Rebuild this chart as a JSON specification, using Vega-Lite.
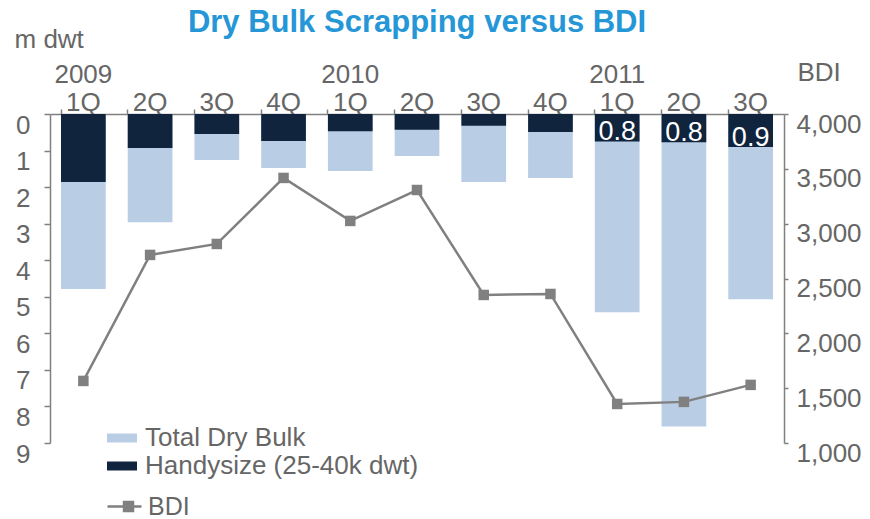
{
  "$schema": "https://vega.github.io/schema/vega-lite/v6.json",
  "width": 734,
  "height": 329,
  "autosize": {"type": "none"},
  "padding": {"left": 50, "top": 114, "right": 86, "bottom": 76},
  "config": {
    "font": "Liberation Sans",
    "view": {"stroke": null},
    "axis": {"grid": false}
  },
  "title": {
    "text": "Dry Bulk Scrapping versus BDI",
    "fontSize": 31,
    "fontWeight": "bold",
    "color": "#2596D6",
    "anchor": "middle",
    "font": "Liberation Sans",
    "offset": -13
  },
  "data": {
    "values": [
      {"q": "2009 1Q", "total": 4.79, "handy": 1.86, "bdi": 1566},
      {"q": "2009 2Q", "total": 2.96, "handy": 0.93, "bdi": 2715},
      {"q": "2009 3Q", "total": 1.26, "handy": 0.55, "bdi": 2815},
      {"q": "2009 4Q", "total": 1.48, "handy": 0.74, "bdi": 3417},
      {"q": "2010 1Q", "total": 1.56, "handy": 0.47, "bdi": 3025},
      {"q": "2010 2Q", "total": 1.15, "handy": 0.43, "bdi": 3307},
      {"q": "2010 3Q", "total": 1.86, "handy": 0.32, "bdi": 2350},
      {"q": "2010 4Q", "total": 1.75, "handy": 0.49, "bdi": 2359},
      {"q": "2011 1Q", "total": 5.42, "handy": 0.75, "bdi": 1356, "label": "0.8"},
      {"q": "2011 2Q", "total": 8.55, "handy": 0.77, "bdi": 1375, "label": "0.8"},
      {"q": "2011 3Q", "total": 5.07, "handy": 0.9, "bdi": 1530, "label": "0.9"}
    ]
  },
  "encoding": {
    "x": {
      "field": "q",
      "type": "nominal",
      "sort": null,
      "scale": {"paddingInner": 0.33, "paddingOuter": 0.165},
      "axis": {
        "orient": "top",
        "title": null,
        "labelAngle": 0,
        "labelFontSize": 26,
        "labelColor": "#666666",
        "labelBaseline": "alphabetic",
        "labelPadding": 27,
        "labelOverlap": false,
        "labelExpr": "indexof(datum.value, '1Q') > 0 ? [(slice(datum.value, 0, 4) == '2010' ? '\u00a0\u00a0\u00a0' : '\u00a0\u00a0') + slice(datum.value, 0, 4), '1Q'] : ['', slice(datum.value, 5)]",
        "bandPosition": 0,
        "tickSize": 5,
        "tickWidth": 1.5,
        "tickColor": "#808080",
        "domainColor": "#808080",
        "domainWidth": 1.5
      }
    }
  },
  "layer": [
    {
      "transform": [{"fold": ["total", "handy"], "as": ["series", "value"]}],
      "encoding": {
        "y": {
          "field": "value",
          "type": "quantitative",
          "stack": null,
          "scale": {"domain": [0, 9], "reverse": true, "nice": false},
          "axis": {
            "orient": "left",
            "values": [0, 1, 2, 3, 4, 5, 6, 7, 8, 9],
            "format": "d",
            "labelFontSize": 26,
            "labelColor": "#666666",
            "labelPadding": 14,
            "labelOffset": 11,
            "tickSize": 6,
            "tickWidth": 1.5,
            "tickColor": "#808080",
            "domainColor": "#808080",
            "domainWidth": 1.5,
            "title": "m dwt",
            "titleAngle": 0,
            "titleAlign": "left",
            "titleBaseline": "alphabetic",
            "titleX": -36,
            "titleY": -67,
            "titleFontSize": 26,
            "titleFontWeight": "normal",
            "titleColor": "#666666"
          }
        }
      },
      "layer": [
        {
          "mark": {"type": "bar"},
          "encoding": {
            "fill": {
              "field": "series",
              "type": "nominal",
              "scale": {
                "domain": ["total", "handy"],
                "range": ["#B9CDE5", "#10243E"]
              },
              "legend": {
                "orient": "none",
                "legendX": 57,
                "legendY": 309,
                "title": null,
                "labelExpr": "datum.label == 'total' ? 'Total Dry Bulk' : 'Handysize (25-40k dwt)'",
                "symbolType": "M-1,-0.3H1V0.3H-1Z",
                "symbolSize": 900,
                "symbolStrokeWidth": 0,
                "labelFontSize": 26,
                "labelColor": "#666666",
                "labelLimit": 500,
                "labelOffset": 8,
                "rowPadding": -2
              }
            }
          }
        },
        {
          "transform": [{"filter": "datum.series == 'handy' && isValid(datum.label)"}],
          "mark": {
            "type": "text",
            "color": "#FFFFFF",
            "fontSize": 27,
            "baseline": "alphabetic",
            "align": "center",
            "dy": -1
          },
          "encoding": {
            "text": {"field": "label", "type": "nominal"}
          }
        }
      ]
    },
    {
      "encoding": {
        "y": {
          "field": "bdi",
          "type": "quantitative",
          "scale": {"domain": [1000, 4000], "nice": false},
          "axis": {
            "orient": "right",
            "values": [1000, 1500, 2000, 2500, 3000, 3500, 4000],
            "labelExpr": "format(datum.value, ',.0f')",
            "labelFontSize": 26,
            "labelColor": "#666666",
            "labelPadding": 8,
            "labelOffset": 10,
            "tickSize": 4,
            "tickWidth": 1.5,
            "tickColor": "#808080",
            "domainColor": "#808080",
            "domainWidth": 1.5,
            "title": "BDI",
            "titleAngle": 0,
            "titleAlign": "left",
            "titleBaseline": "alphabetic",
            "titleX": 13,
            "titleY": -34,
            "titleFontSize": 26,
            "titleFontWeight": "normal",
            "titleColor": "#666666"
          }
        }
      },
      "layer": [
        {
          "mark": {"type": "line", "strokeWidth": 2.5},
          "encoding": {
            "stroke": {
              "datum": "BDI",
              "type": "nominal",
              "scale": {"domain": ["BDI"], "range": ["#808080"]},
              "legend": {
                "orient": "none",
                "legendX": 56,
                "legendY": 374,
                "title": null,
                "symbolType": "M-1,0H1M-0.028,-0.264H0.5V0.264H-0.028Z",
                "symbolSize": 1156,
                "symbolStrokeWidth": 2.5,
                "symbolFillColor": "#808080",
                "labelFontSize": 25,
                "labelColor": "#666666",
                "labelOffset": 5
              }
            }
          }
        },
        {
          "mark": {"type": "point", "shape": "square", "filled": true, "size": 110, "color": "#808080", "opacity": 1}
        }
      ]
    }
  ],
  "resolve": {"scale": {"y": "independent"}}
}
